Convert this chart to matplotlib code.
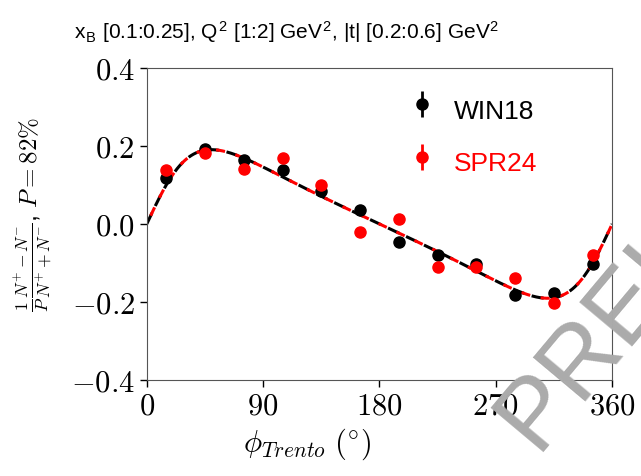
import numpy as np
import matplotlib.pyplot as plt
import matplotlib.ticker as ticker

plt.rcParams["mathtext.fontset"] = "cm"
plt.rcParams["font.family"] = ["Liberation Sans", "DejaVu Sans"]

# ── Data ──────────────────────────────────────────────────────────────────────
phi_bins = [15, 45, 75, 105, 135, 165, 195, 225, 255, 285, 315, 345]
win18 = [0.118, 0.192, 0.164, 0.138, 0.085, 0.036, -0.046, -0.080, -0.103, -0.182, -0.177, -0.103]
spr24 = [0.138, 0.182, 0.141, 0.169, 0.100, -0.020, 0.013, -0.110, -0.110, -0.138, -0.203, -0.080]
win18_err = [0.006] * 12
spr24_err = [0.006] * 12

# fit parameters, f = A sin(phi) / (1 + c cos(phi))
fit_win18 = (0.146, -0.643)
fit_spr24 = (0.146, -0.643)

x_ticks = [0, 90, 180, 270, 360]
y_ticks = [-0.4, -0.2, 0.0, 0.2, 0.4]


def model(phi_deg, A, c):
    p = np.radians(phi_deg)
    return A * np.sin(p) / (1 + c * np.cos(p))


fig = plt.figure(figsize=(6.41, 4.76), dpi=100)
ax = fig.add_axes([0.229, 0.202, 0.726, 0.655])

phi = np.linspace(0, 360, 400)
ax.plot(phi, model(phi, *fit_win18), color="black", ls=(0, (4, 2.5)), lw=2.2)
ax.plot(phi, model(phi, *fit_spr24), color="red", ls=(3.5, (3, 3.5)), lw=2.2)

ax.errorbar(phi_bins, win18, yerr=win18_err, fmt="o", color="black", ms=8,
            elinewidth=2, label="WIN18", zorder=3)
ax.errorbar(phi_bins, spr24, yerr=spr24_err, fmt="o", color="red", ms=8,
            elinewidth=2, label="SPR24", zorder=4)

ax.set_xlim(0, 360)
ax.set_ylim(-0.4, 0.4)
ax.set_xticks(x_ticks)
ax.set_yticks(y_ticks)
ax.xaxis.set_major_formatter(ticker.FuncFormatter(lambda v, _: f"${v:.0f}$"))
ax.yaxis.set_major_formatter(ticker.FuncFormatter(
    lambda v, _: f"${v:.1f}$" if abs(v) > 1e-9 else "$0.0$"))
ax.tick_params(labelsize=22, length=5, width=1, direction="out")
for sp in ax.spines.values():
    sp.set_color("#555555")

ax.set_xlabel(r"$\phi_{Trento}$ $(^{\circ})$", fontsize=22)
ax.xaxis.set_label_coords(0.345, -0.15)
ax.set_ylabel(r"$\frac{1}{P}\frac{N^{+}-N^{-}}{N^{+}+N^{-}}$, $P=82\%$", fontsize=18)
ax.yaxis.set_label_coords(-0.2, 0.53)

ax.set_title(r"x$_\mathregular{B}$ [0.1:0.25], Q$^\mathregular{2}$ [1:2] GeV$^\mathregular{2}$, "
             r"|t| [0.2:0.6] GeV$^\mathregular{2}$", fontsize=15, x=0.3, pad=20)

leg = ax.legend(loc="upper right", frameon=False, fontsize=19,
                handlelength=0.8, handleheight=2.0, borderaxespad=0.6,
                bbox_to_anchor=(0.895, 1.015), labelspacing=0.45)
for txt, col in zip(leg.get_texts(), ["black", "red"]):
    txt.set_color(col)

fig.text(0.836, 0.05, "PRELIMINARY", rotation=50, rotation_mode="anchor",
         fontsize=72, color="#ababab", ha="left", va="baseline", zorder=10)

fig.savefig("out.png", dpi=100)
